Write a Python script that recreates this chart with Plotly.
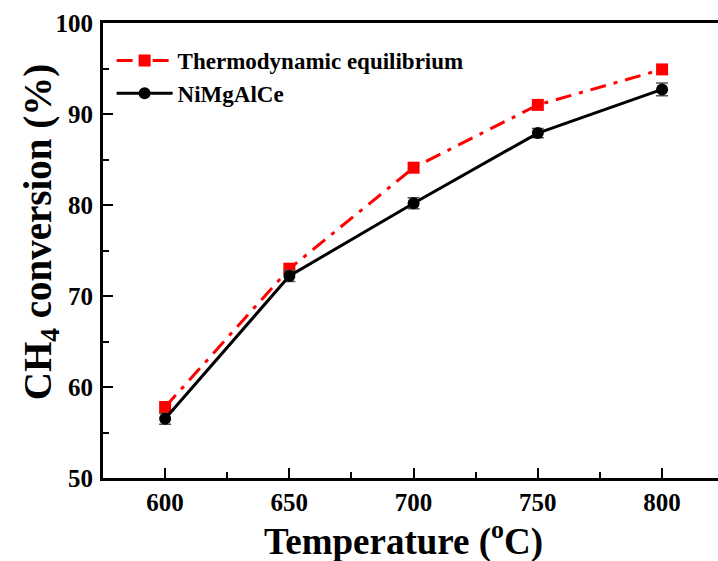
import plotly.graph_objects as go

temps = [600, 650, 700, 750, 800]
thermo = [57.8, 73.0, 84.1, 91.0, 94.9]
nimgalce = [56.5, 72.2, 80.2, 87.9, 92.7]
nimgalce_err = [0.6, 0.6, 0.6, 0.5, 0.7]

FONT = "Liberation Serif"

fig = go.Figure()
fig.add_trace(go.Scatter(
    x=temps, y=thermo, mode="lines+markers", name="Thermodynamic equilibrium",
    line=dict(color="#ff0000", width=3, dash="16px,8px,4px,8px"),
    marker=dict(symbol="square", size=12, color="#ff0000"),
))
fig.add_trace(go.Scatter(
    x=temps, y=nimgalce, mode="lines+markers", name="NiMgAlCe",
    line=dict(color="#000000", width=3),
    marker=dict(symbol="circle", size=12, color="#000000"),
    error_y=dict(type="data", array=nimgalce_err, visible=True,
                 color="#555555", thickness=1.5, width=6),
))

fig.update_layout(
    width=718, height=561,
    margin=dict(l=103, r=0, t=23, b=83),
    paper_bgcolor="white", plot_bgcolor="white",
    font=dict(family=FONT, color="black"),
    showlegend=True,
    legend=dict(
        x=0.014, y=0.965, xanchor="left", yanchor="top",
        bgcolor="rgba(0,0,0,0)",
        font=dict(family=FONT, size=23, color="black", weight="bold"),
        tracegroupgap=0, itemwidth=56,
    ),
    annotations=[
        dict(text="CH<sub>4</sub> conversion (%)", xref="paper", yref="paper",
             x=-0.1025, y=0.54, xanchor="center", yanchor="middle",
             textangle=-90, showarrow=False,
             font=dict(family=FONT, size=39, color="black", weight="bold")),
        dict(text="Temperature (<sup>o</sup>C)", xref="paper", yref="paper",
             x=0.488, y=-0.135, xanchor="center", yanchor="middle",
             showarrow=False,
             font=dict(family=FONT, size=37, color="black", weight="bold")),
    ],
)
fig.update_xaxes(
    range=[575, 822.5],
    tickvals=[600, 650, 700, 750, 800],
    showline=True, linecolor="black", linewidth=3, mirror=True,
    ticks="inside", ticklen=10, tickwidth=2, tickcolor="black",
    minor=dict(ticks="inside", ticklen=6, tickwidth=2, tickcolor="black", dtick=25, tick0=575),
    showgrid=False, zeroline=False,
    tickfont=dict(family=FONT, size=25, color="black", weight="bold"),
)
fig.update_yaxes(
    range=[50, 100], dtick=10,
    showline=True, linecolor="black", linewidth=3, mirror=False,
    ticks="inside", ticklen=10, tickwidth=2, tickcolor="black",
    minor=dict(ticks="inside", ticklen=6, tickwidth=2, tickcolor="black", dtick=5),
    showgrid=False, zeroline=False,
    tickfont=dict(family=FONT, size=25, color="black", weight="bold"),
    ticklabelstandoff=2,
)

fig.write_html("out.html")
